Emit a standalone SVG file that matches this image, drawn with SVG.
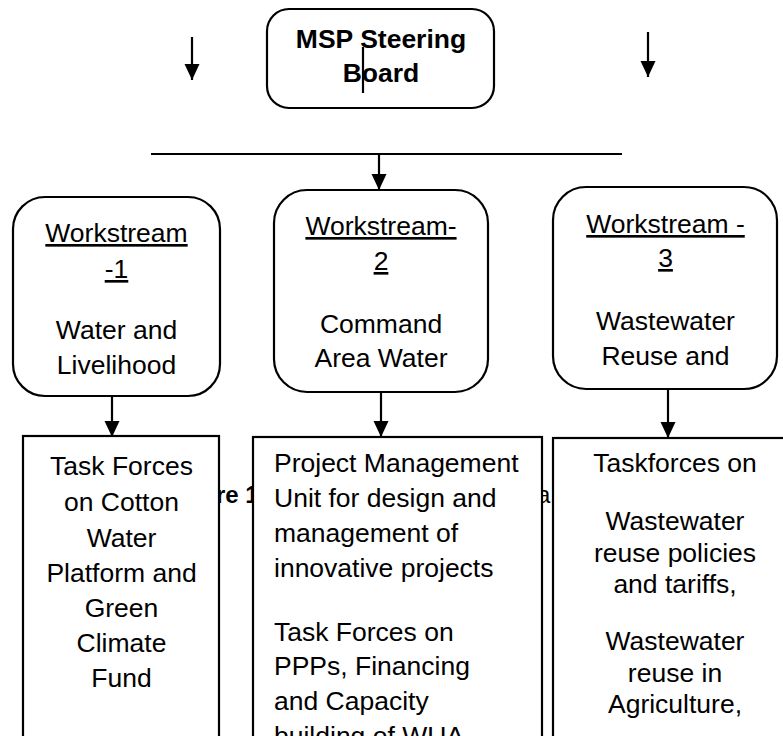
<svg xmlns="http://www.w3.org/2000/svg" width="783" height="736" viewBox="0 0 783 736">
  <style>
    .box { fill: #ffffff; stroke: #000000; stroke-width: 2.2; }
    .line { fill: none; stroke: #000000; stroke-width: 2.2; }
    .t { font-family: "Liberation Sans", Arial, sans-serif; font-size: 26.5px; fill: #000000; }
    .c { text-anchor: middle; }
    .b { font-weight: bold; }
    .u { text-decoration: underline; }
    .cap { font-family: "Liberation Sans", Arial, sans-serif; font-size: 24px; fill: #000000; }
  </style>
  <defs>
    <marker id="arrow" markerUnits="userSpaceOnUse" markerWidth="16" markerHeight="16" viewBox="0 0 16 16" refX="16" refY="8" orient="auto">
      <polygon points="0,0.5 16,8 0,15.5" fill="#000000"/>
    </marker>
  </defs>

  <rect width="783" height="736" fill="#ffffff"/>

  <!-- caption fragments sitting behind the task-force boxes -->
  <text class="cap b" x="216" y="503">re 1</text>
  <text class="cap" x="537" y="503">a</text>

  <g id="connectors">
    <line class="line" x1="192" y1="37" x2="192" y2="80" marker-end="url(#arrow)"/>
    <line class="line" x1="648" y1="32" x2="648" y2="77" marker-end="url(#arrow)"/>
    <line class="line" x1="151" y1="154" x2="622" y2="154"/>
    <line class="line" x1="379" y1="154" x2="379" y2="190" marker-end="url(#arrow)"/>
    <line class="line" x1="112" y1="396" x2="112" y2="437" marker-end="url(#arrow)"/>
    <line class="line" x1="381" y1="392" x2="381" y2="437" marker-end="url(#arrow)"/>
    <line class="line" x1="668" y1="389" x2="668" y2="438" marker-end="url(#arrow)"/>
  </g>

  <g id="steering-board">
    <rect class="box" x="267" y="9" width="227" height="99" rx="22" ry="22"/>
    <text class="t c b" x="381" y="48">MSP Steering</text>
    <text class="t c b" x="381" y="82">Board</text>
    <line class="line" x1="363" y1="47" x2="363" y2="93"/>
  </g>

  <g id="workstream-1">
    <rect class="box" x="13" y="197" width="207" height="199" rx="32" ry="32"/>
    <text class="t c u" x="116.5" y="242">Workstream</text>
    <text class="t c u" x="116.5" y="278">-1</text>
    <text class="t c" x="116.5" y="339">Water and</text>
    <text class="t c" x="116.5" y="374">Livelihood</text>
  </g>

  <g id="workstream-2">
    <rect class="box" x="274" y="190" width="214" height="202" rx="33" ry="33"/>
    <text class="t c u" x="381" y="235">Workstream-</text>
    <text class="t c u" x="381" y="270">2</text>
    <text class="t c" x="381" y="333">Command</text>
    <text class="t c" x="381" y="367">Area Water</text>
  </g>

  <g id="workstream-3">
    <rect class="box" x="553" y="187" width="224" height="202" rx="33" ry="33"/>
    <text class="t c u" x="665.5" y="233">Workstream -</text>
    <text class="t c u" x="665.5" y="267">3</text>
    <text class="t c" x="665.5" y="330">Wastewater</text>
    <text class="t c" x="665.5" y="365">Reuse and</text>
  </g>

  <g id="taskforces-1">
    <rect class="box" x="23" y="436" width="196" height="330"/>
    <text class="t c" x="121.5" y="475">Task Forces</text>
    <text class="t c" x="121.5" y="511">on Cotton</text>
    <text class="t c" x="121.5" y="547">Water</text>
    <text class="t c" x="121.5" y="582">Platform and</text>
    <text class="t c" x="121.5" y="617">Green</text>
    <text class="t c" x="121.5" y="652">Climate</text>
    <text class="t c" x="121.5" y="687">Fund</text>
  </g>

  <g id="taskforces-2">
    <rect class="box" x="253" y="437" width="289" height="330"/>
    <text class="t" x="274" y="472">Project Management</text>
    <text class="t" x="274" y="507">Unit for design and</text>
    <text class="t" x="274" y="542">management of</text>
    <text class="t" x="274" y="577">innovative projects</text>
    <text class="t" x="274" y="641">Task Forces on</text>
    <text class="t" x="274" y="675">PPPs, Financing</text>
    <text class="t" x="274" y="710">and Capacity</text>
    <text class="t" x="274" y="745">building of WUA</text>
  </g>

  <g id="taskforces-3">
    <rect class="box" x="553" y="438" width="242" height="330"/>
    <text class="t c" x="675" y="472">Taskforces on</text>
    <text class="t c" x="675" y="530">Wastewater</text>
    <text class="t c" x="675" y="562">reuse policies</text>
    <text class="t c" x="675" y="593">and tariffs,</text>
    <text class="t c" x="675" y="650">Wastewater</text>
    <text class="t c" x="675" y="682">reuse in</text>
    <text class="t c" x="675" y="713">Agriculture,</text>
  </g>
</svg>
